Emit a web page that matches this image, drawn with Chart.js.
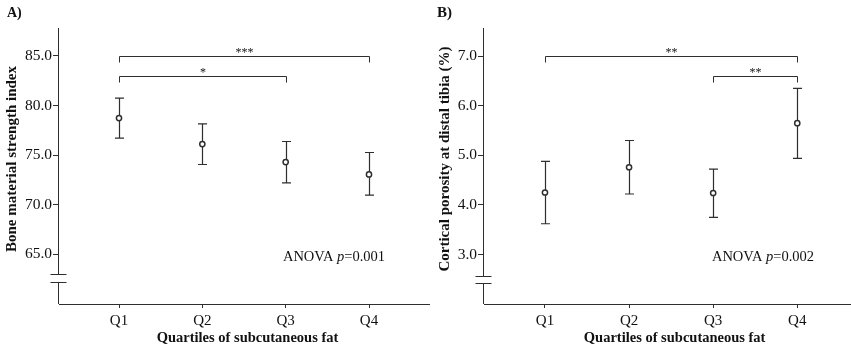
<!DOCTYPE html>
<html><head><meta charset="utf-8">
<script src="https://cdn.jsdelivr.net/npm/chart.js@4.4.1/dist/chart.umd.min.js"></script>
<style>
html,body{margin:0;padding:0;background:#fff;}
#wrap{position:relative;width:851px;height:348px;overflow:hidden;background:#fff;}
#c1{position:absolute;left:0;top:0;}
#c2{position:absolute;left:425px;top:0;}
</style></head><body>
<div id="wrap">
<canvas id="c1" width="432" height="348"></canvas>
<canvas id="c2" width="426" height="348"></canvas>
</div>
<script>
// ---- data ----
const categories = ['Q1', 'Q2', 'Q3', 'Q4'];

const bmsiMean  = [78.73, 76.11, 74.30, 73.05];
const bmsiUpper = [80.74, 78.15, 76.37, 75.26];
const bmsiLower = [76.71, 74.05, 72.21, 70.97];
const bmsiTicks = [65, 70, 75, 80, 85];
const bmsiBrackets = [
  { from: 1, to: 4, y: 85.0, label: '***' },
  { from: 1, to: 3, y: 83.0, label: '*' }
];

const porMean  = [4.25, 4.76, 4.24, 5.65];
const porUpper = [4.88, 5.30, 4.72, 6.35];
const porLower = [3.62, 4.22, 3.75, 4.94];
const porTicks = [3, 4, 5, 6, 7];
const porBrackets = [
  { from: 1, to: 4, y: 7.0, label: '**' },
  { from: 3, to: 4, y: 6.6, label: '**' }
];

const LINE = '#2e2e2e';
const TEXT = '#111111';
const SERIF = "'Liberation Serif', 'Times New Roman', serif";

function makeDeco(cfg) {
  return {
    id: 'deco_' + cfg.id,
    beforeDatasetsDraw(chart) {
      const { ctx, scales: { x, y } } = chart;
      ctx.save();
      ctx.strokeStyle = LINE;
      ctx.lineWidth = 1.2;
      cfg.upper.forEach((u, i) => {
        const px = Math.round(x.getPixelForValue(i + 1)) + 0.5;
        const pu = y.getPixelForValue(u), pl = y.getPixelForValue(cfg.lower[i]);
        ctx.beginPath();
        ctx.moveTo(px, pu); ctx.lineTo(px, pl);
        ctx.moveTo(px - 4.5, pu); ctx.lineTo(px + 4.5, pu);
        ctx.moveTo(px - 4.5, pl); ctx.lineTo(px + 4.5, pl);
        ctx.stroke();
      });
      ctx.lineWidth = 1;
      ctx.fillStyle = TEXT;
      ctx.font = '12px ' + SERIF;
      ctx.textAlign = 'center';
      ctx.textBaseline = 'alphabetic';
      cfg.brackets.forEach(b => {
        const x1 = Math.round(x.getPixelForValue(b.from)) + 0.5;
        const x2 = Math.round(x.getPixelForValue(b.to)) + 0.5;
        const py = Math.round(y.getPixelForValue(b.y)) + 0.5;
        ctx.beginPath();
        ctx.moveTo(x1, py + 6); ctx.lineTo(x1, py); ctx.lineTo(x2, py); ctx.lineTo(x2, py + 6);
        ctx.stroke();
        ctx.fillText(b.label, (x1 + x2) / 2, py - 1);
      });
      ctx.restore();
    },
    afterDraw(chart) {
      const { ctx, chartArea: ca, scales: { x, y } } = chart;
      ctx.save();
      ctx.strokeStyle = LINE;
      ctx.lineWidth = 1;
      const ax = Math.round(ca.left) - 0.5;
      const bHi = Math.round(y.getPixelForValue(cfg.breakVals[1])) + 0.5;
      const bLo = Math.round(y.getPixelForValue(cfg.breakVals[0])) + 0.5;
      ctx.beginPath();
      ctx.moveTo(ax, ca.top); ctx.lineTo(ax, bHi);
      ctx.moveTo(ax, bLo); ctx.lineTo(ax, ca.bottom);
      ctx.moveTo(ax - 8, bHi); ctx.lineTo(ax + 8, bHi);
      ctx.moveTo(ax - 8, bLo); ctx.lineTo(ax + 8, bLo);
      ctx.stroke();

      ctx.fillStyle = TEXT;
      ctx.font = 'bold ' + cfg.panelSize + 'px ' + SERIF;
      ctx.textAlign = 'left';
      ctx.textBaseline = 'middle';
      ctx.fillText(cfg.panel, cfg.panelX, 13.5);

      ctx.save();
      ctx.font = 'bold 15px ' + SERIF;
      ctx.translate(cfg.yTitleX, 159);
      ctx.rotate(-Math.PI / 2);
      ctx.textAlign = 'center';
      ctx.textBaseline = 'middle';
      ctx.fillText(cfg.yTitle, 0, 0);
      ctx.restore();

      ctx.font = 'bold 14.5px ' + SERIF;
      ctx.textAlign = 'center';
      ctx.textBaseline = 'middle';
      ctx.fillText('Quartiles of subcutaneous fat', x.getPixelForValue(2.5) + 3.5, 338);

      const parts = [['ANOVA ', '14.5px '], ['p', 'italic 14.5px '], ['=' + cfg.anova, '14.5px ']];
      let total = 0;
      parts.forEach(p => { ctx.font = p[1] + SERIF; total += ctx.measureText(p[0]).width; });
      let tx = ca.left + cfg.anovaDX - total / 2;
      ctx.textAlign = 'left';
      parts.forEach(p => { ctx.font = p[1] + SERIF; ctx.fillText(p[0], tx, 257); tx += ctx.measureText(p[0]).width; });
      ctx.restore();
    }
  };
}

function makeChart(canvasId, cfg) {
  return new Chart(document.getElementById(canvasId), {
    type: 'scatter',
    data: {
      datasets: [{
        data: cfg.mean.map((v, i) => ({ x: i + 1, y: v })),
        pointRadius: 2.6, pointHoverRadius: 2.6, pointBorderWidth: 1.5,
        pointBorderColor: LINE, pointBackgroundColor: '#ffffff', showLine: false
      }]
    },
    options: {
      responsive: false, animation: false, events: [],
      layout: { autoPadding: false, padding: { left: 0, right: cfg.padRight, top: 28, bottom: 0 } },
      plugins: { legend: { display: false }, tooltip: { enabled: false }, title: { display: false } },
      scales: {
        x: {
          type: 'linear', min: cfg.xMin, max: cfg.xMax,
          afterBuildTicks: s => { s.ticks = categories.map((c, i) => ({ value: i + 1 })); },
          ticks: { callback: v => categories[Math.round(v) - 1], font: { family: SERIF, size: 15 }, color: TEXT, padding: 4, maxRotation: 0, autoSkip: false },
          grid: { display: true, drawOnChartArea: false, drawTicks: true, tickLength: 4, color: LINE },
          border: { display: true, color: LINE, width: 1 },
          afterFit: s => { s.height = 44; }
        },
        y: {
          type: 'linear', min: cfg.yMin, max: cfg.yMax,
          afterBuildTicks: s => { s.ticks = cfg.yTicks.map(v => ({ value: v })); },
          ticks: { callback: v => Number(v).toFixed(1), font: { family: SERIF, size: 15.5 }, color: TEXT, padding: 1, autoSkip: false },
          grid: { display: true, drawOnChartArea: false, drawTicks: true, tickLength: 6, color: LINE },
          border: { display: false },
          afterFit: s => { s.width = 59; }
        }
      }
    },
    plugins: [makeDeco(cfg)]
  });
}

makeChart('c1', {
  id: 'a', mean: bmsiMean, upper: bmsiUpper, lower: bmsiLower, yTicks: bmsiTicks, brackets: bmsiBrackets,
  yMin: 60, yMax: 87.8, xMin: 0.28, xMax: 4.72, padRight: 3,
  breakVals: [62.2, 63.0], panel: 'A)', panelX: 7, panelSize: 14,
  yTitle: 'Bone material strength index', yTitleX: 12.5, anova: '0.001', anovaDX: 275
});
makeChart('c2', {
  id: 'b', mean: porMean, upper: porUpper, lower: porLower, yTicks: porTicks, brackets: porBrackets,
  yMin: 2.0, yMax: 7.57, xMin: 0.275, xMax: 4.639, padRight: 0,
  breakVals: [2.42, 2.56], panel: 'B)', panelX: 12, panelSize: 15,
  yTitle: 'Cortical porosity at distal tibia (%)', yTitleX: 20, anova: '0.002', anovaDX: 279
});
</script>
</body></html>
